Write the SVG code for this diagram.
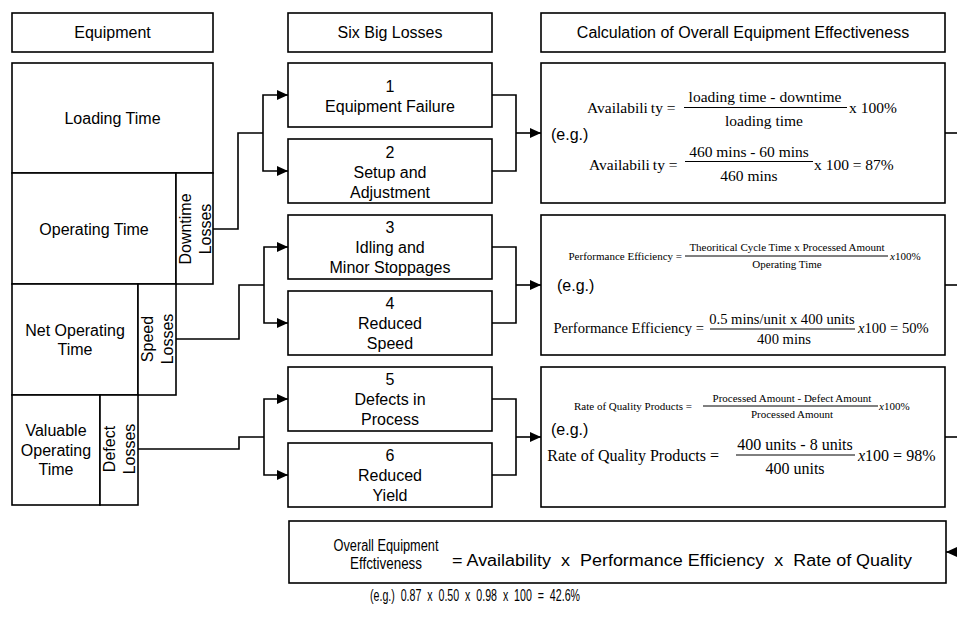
<svg xmlns="http://www.w3.org/2000/svg" width="957" height="621" viewBox="0 0 957 621">
  <style>
    .box { fill: #fff; stroke: #000; stroke-width: 1.6; }
    .wire { fill: none; stroke: #000; stroke-width: 1.6; }
    .sans { font-family: "Liberation Sans", Arial, sans-serif; font-size: 16px; fill: #000; }
    .mid { text-anchor: middle; }
    .serif { font-family: "Liberation Serif", "Times New Roman", serif; fill: #000; }
    .bar { stroke: #000; stroke-width: 1; }
  </style>
  <defs>
    <marker id="arrow" markerUnits="userSpaceOnUse" markerWidth="11" markerHeight="10" refX="11" refY="5" orient="auto">
      <path d="M0,0 L11,5 L0,10 z" fill="#000"/>
    </marker>
  </defs>
  <rect width="957" height="621" fill="#fff"/>

  <!-- column headers -->
  <g id="hdr-equipment">
    <rect class="box" x="12" y="13" width="201" height="39"/>
    <text class="sans mid" x="112.5" y="38">Equipment</text>
  </g>
  <g id="hdr-losses">
    <rect class="box" x="288" y="13" width="204" height="39"/>
    <text class="sans mid" x="390" y="38">Six Big Losses</text>
  </g>
  <g id="hdr-calc">
    <rect class="box" x="541" y="13" width="404" height="39"/>
    <text class="sans mid" x="743" y="38" font-size="16.5">Calculation of Overall Equipment Effectiveness</text>
  </g>

  <!-- equipment time breakdown -->
  <g id="loading-time">
    <rect class="box" x="12" y="63" width="201" height="110"/>
    <text class="sans mid" x="112.5" y="124">Loading Time</text>
  </g>
  <g id="operating-time">
    <rect class="box" x="12" y="173" width="164" height="111"/>
    <text class="sans mid" x="94" y="235">Operating Time</text>
  </g>
  <g id="downtime-losses">
    <rect class="box" x="176" y="173" width="37" height="111"/>
    <text class="sans mid" transform="translate(194.5,229) rotate(-90)"><tspan x="0" y="-4">Downtime</tspan><tspan x="0" y="16">Losses</tspan></text>
  </g>
  <g id="net-operating-time">
    <rect class="box" x="12" y="284" width="126" height="111"/>
    <text class="sans mid"><tspan x="75" y="336">Net Operating</tspan><tspan x="75" y="355">Time</tspan></text>
  </g>
  <g id="speed-losses">
    <rect class="box" x="138" y="284" width="38" height="111"/>
    <text class="sans mid" transform="translate(157,339) rotate(-90)"><tspan x="0" y="-4">Speed</tspan><tspan x="0" y="16">Losses</tspan></text>
  </g>
  <g id="valuable-operating-time">
    <rect class="box" x="12" y="395" width="88" height="110"/>
    <text class="sans mid"><tspan x="56" y="436">Valuable</tspan><tspan x="56" y="456">Operating</tspan><tspan x="56" y="475">Time</tspan></text>
  </g>
  <g id="defect-losses">
    <rect class="box" x="100" y="395" width="38" height="110"/>
    <text class="sans mid" transform="translate(119,449) rotate(-90)"><tspan x="0" y="-4">Defect</tspan><tspan x="0" y="16">Losses</tspan></text>
  </g>

  <!-- six big losses -->
  <g id="loss-1">
    <rect class="box" x="288" y="63" width="204" height="64"/>
    <text class="sans mid"><tspan x="390" y="92">1</tspan><tspan x="390" y="112">Equipment Failure</tspan></text>
  </g>
  <g id="loss-2">
    <rect class="box" x="288" y="139" width="204" height="64"/>
    <text class="sans mid"><tspan x="390" y="158">2</tspan><tspan x="390" y="178">Setup and</tspan><tspan x="390" y="198">Adjustment</tspan></text>
  </g>
  <g id="loss-3">
    <rect class="box" x="288" y="215" width="204" height="64"/>
    <text class="sans mid"><tspan x="390" y="233">3</tspan><tspan x="390" y="253">Idling and</tspan><tspan x="390" y="273">Minor Stoppages</tspan></text>
  </g>
  <g id="loss-4">
    <rect class="box" x="288" y="291" width="204" height="64"/>
    <text class="sans mid"><tspan x="390" y="309">4</tspan><tspan x="390" y="329">Reduced</tspan><tspan x="390" y="349">Speed</tspan></text>
  </g>
  <g id="loss-5">
    <rect class="box" x="288" y="367" width="204" height="64"/>
    <text class="sans mid"><tspan x="390" y="385">5</tspan><tspan x="390" y="405">Defects in</tspan><tspan x="390" y="425">Process</tspan></text>
  </g>
  <g id="loss-6">
    <rect class="box" x="288" y="443" width="204" height="64"/>
    <text class="sans mid"><tspan x="390" y="461">6</tspan><tspan x="390" y="481">Reduced</tspan><tspan x="390" y="501">Yield</tspan></text>
  </g>

  <!-- availability -->
  <g id="calc-availability">
    <rect class="box" x="541" y="63" width="404" height="140"/>
    <text class="serif" x="587" y="113" font-size="15.5">Availabili<tspan dx="3">ty =</tspan></text>
    <text class="serif mid" x="765" y="102" font-size="15.5">loading  time - downtime</text>
    <line class="bar" x1="684" y1="107.5" x2="847" y2="107.5"/>
    <text class="serif mid" x="764" y="126" font-size="15.5">loading  time</text>
    <text class="serif" x="849" y="113" font-size="15.5">x 100%</text>
    <text class="sans" x="551" y="140" font-size="14">(e.g.)</text>
    <text class="serif" x="589" y="170" font-size="15.5">Availabili<tspan dx="3">ty =</tspan></text>
    <text class="serif mid" x="749" y="157" font-size="15.5">460 mins - 60 mins</text>
    <line class="bar" x1="685" y1="161.5" x2="813" y2="161.5"/>
    <text class="serif mid" x="749" y="181" font-size="15.5">460 mins</text>
    <text class="serif" x="814" y="170" font-size="15.5">x 100 = 87%</text>
  </g>

  <!-- performance efficiency -->
  <g id="calc-performance">
    <rect class="box" x="541" y="215" width="404" height="140"/>
    <text class="serif" x="682" y="260" font-size="11" text-anchor="end">Performance Efficiency =</text>
    <text class="serif mid" x="787" y="251" font-size="11">Theoritical Cycle Time  x  Processed Amount</text>
    <line class="bar" x1="685" y1="256" x2="888" y2="256"/>
    <text class="serif mid" x="787" y="268" font-size="11">Operating Time</text>
    <text class="serif" x="890" y="260" font-size="11"><tspan font-style="italic">x</tspan>100%</text>
    <text class="sans" x="557" y="291" font-size="15">(e.g.)</text>
    <text class="serif" x="704" y="333" font-size="14.6" text-anchor="end">Performance Efficiency =</text>
    <text class="serif mid" x="782" y="324" font-size="14.6">0.5 mins/unit  x 400 units</text>
    <line class="bar" x1="710" y1="329" x2="855" y2="329"/>
    <text class="serif mid" x="784" y="344" font-size="14.6">400 mins</text>
    <text class="serif" x="858" y="333" font-size="14.6"><tspan font-style="italic">x</tspan>100 = 50%</text>
  </g>

  <!-- rate of quality -->
  <g id="calc-quality">
    <rect class="box" x="541" y="367" width="404" height="140"/>
    <text class="serif" x="692" y="410" font-size="11" text-anchor="end">Rate of  Quality  Products =</text>
    <text class="serif mid" x="792" y="402" font-size="11">Processed  Amount  - Defect  Amount</text>
    <line class="bar" x1="703" y1="406" x2="878" y2="406"/>
    <text class="serif mid" x="792" y="418" font-size="11">Processed  Amount</text>
    <text class="serif" x="879" y="410" font-size="11"><tspan font-style="italic">x</tspan>100%</text>
    <text class="sans" x="551" y="435" font-size="14">(e.g.)</text>
    <text class="serif" x="719" y="461" font-size="16" text-anchor="end">Rate of  Quality Products =</text>
    <text class="serif mid" x="795" y="450" font-size="16">400 units - 8 units</text>
    <line class="bar" x1="736" y1="455" x2="855" y2="455"/>
    <text class="serif mid" x="795" y="474" font-size="16">400 units</text>
    <text class="serif" x="858" y="461" font-size="16"><tspan font-style="italic">x</tspan>100 = 98%</text>
  </g>

  <!-- overall equipment effectiveness -->
  <g id="oee">
    <rect class="box" x="289" y="521" width="657" height="62"/>
    <text class="sans mid"><tspan x="386" y="551" textLength="105" lengthAdjust="spacingAndGlyphs">Overall Equipment</tspan><tspan x="386" y="569" textLength="72" lengthAdjust="spacingAndGlyphs">Effctiveness</tspan></text>
    <text class="sans" x="452" y="566" textLength="460" lengthAdjust="spacingAndGlyphs" xml:space="preserve">= Availability  x  Performance Efficiency  x  Rate of Quality</text>
  </g>
  <g id="oee-example">
    <text class="sans" x="370" y="601" font-size="14" textLength="210" lengthAdjust="spacingAndGlyphs" xml:space="preserve">(e.g.)  0.87  x  0.50  x  0.98  x  100  =  42.6%</text>
  </g>

  <!-- connectors -->
  <g id="connectors">
    <path class="wire" d="M213,229 H238 V133 H263"/>
    <path class="wire" d="M263,133 V95 H288" marker-end="url(#arrow)"/>
    <path class="wire" d="M263,133 V171 H288" marker-end="url(#arrow)"/>
    <path class="wire" d="M176,339 H239 V285 H264"/>
    <path class="wire" d="M264,285 V247 H288" marker-end="url(#arrow)"/>
    <path class="wire" d="M264,285 V323 H288" marker-end="url(#arrow)"/>
    <path class="wire" d="M138,449 H239 V437 H264"/>
    <path class="wire" d="M264,437 V399 H288" marker-end="url(#arrow)"/>
    <path class="wire" d="M264,437 V475 H288" marker-end="url(#arrow)"/>

    <path class="wire" d="M492,95 H516 V171 H492"/>
    <path class="wire" d="M516,133 H541" marker-end="url(#arrow)"/>
    <path class="wire" d="M492,247 H516 V323 H492"/>
    <path class="wire" d="M516,285 H541" marker-end="url(#arrow)"/>
    <path class="wire" d="M492,399 H516 V475 H492"/>
    <path class="wire" d="M516,437 H541" marker-end="url(#arrow)"/>

    <path class="wire" d="M945,133 H960"/>
    <path class="wire" d="M945,285 H960"/>
    <path class="wire" d="M945,437 H960"/>
    <path class="wire" d="M962,552 H946" marker-end="url(#arrow)"/>
  </g>
</svg>
